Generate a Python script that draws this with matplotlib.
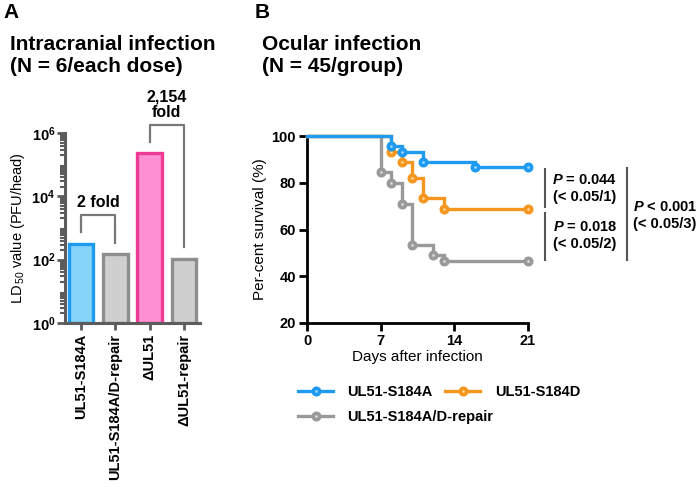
import matplotlib
matplotlib.use("Agg")
import matplotlib.pyplot as plt
from matplotlib.lines import Line2D
import numpy as np

plt.rcParams['font.family'] = ['Liberation Sans', 'DejaVu Sans']
plt.rcParams['mathtext.fontset'] = 'custom'
plt.rcParams['mathtext.default'] = 'regular'
plt.rcParams['mathtext.it'] = 'Liberation Sans:italic:bold'

# ---------------- data ----------------
ld50_labels = ["UL51-S184A", "UL51-S184A/D-repair", "\u0394UL51", "\u0394UL51-repair"]
ld50_values = [310, 150, 226000, 105]
fold_labels = ["2 fold", "2,154\nfold"]

surv_labels = ["UL51-S184A", "UL51-S184D", "UL51-S184A/D-repair"]
days_a = [0, 8, 9, 11, 16, 21]
surv_a = [100, 95.6, 93.3, 88.9, 86.7, 86.7]
days_d = [0, 8, 9, 10, 11, 13, 21]
surv_d = [100, 93.3, 88.9, 82.2, 73.3, 68.9, 68.9]
days_r = [0, 7, 8, 9, 10, 12, 13, 21]
surv_r = [100, 84.4, 80.0, 71.1, 53.3, 48.9, 46.7, 46.7]
x_ticks = [0, 7, 14, 21]
y_ticks = [20, 40, 60, 80, 100]

# ---------------- styles ----------------
W, H = 700, 487
fig = plt.figure(figsize=(7.0, 4.87), dpi=100)

def fx(x):
    return x / W

def fy(y):
    return 1 - y / H

bar_face = ["#86d3f8", "#cfcfcf", "#ff8fd3", "#cfcfcf"]
bar_edge = ["#1e9bef", "#8e8e8e", "#ef3a94", "#8e8e8e"]
axA_col = "#5c5c5c"

# ---------------- panel A ----------------
axA = fig.add_axes([fx(65), fy(323), fx(135), (323 - 133) / H])
xs = np.arange(len(ld50_values))
axA.bar(xs, ld50_values, width=0.72, bottom=1, color=bar_face,
        edgecolor=bar_edge, linewidth=2.4, zorder=2)
axA.set_yscale('log')
axA.set_ylim(1, 1e6)
axA.set_xlim(-0.47, 3.47)
axA.set_yticks([1, 1e2, 1e4, 1e6])
axA.set_yticklabels([r"10$^{0}$", r"10$^{2}$", r"10$^{4}$", r"10$^{6}$"])
axA.yaxis.set_minor_locator(matplotlib.ticker.LogLocator(base=10, subs=np.arange(2, 10), numticks=20))
axA.yaxis.set_minor_formatter(matplotlib.ticker.NullFormatter())
axA.set_xticks(xs)
axA.set_xticklabels(ld50_labels, rotation=90, fontsize=10.5, fontweight='bold')
for s in ['top', 'right']:
    axA.spines[s].set_visible(False)
for s in ['left', 'bottom']:
    axA.spines[s].set_linewidth(2.2)
    axA.spines[s].set_color(axA_col)
axA.tick_params(axis='y', which='major', length=6, width=2, color=axA_col, labelsize=10.5, pad=1)
axA.tick_params(axis='y', which='minor', length=3.5, width=1.5, color=axA_col)
axA.tick_params(axis='x', length=5, width=2, color=axA_col, pad=3)
for t in axA.get_yticklabels():
    t.set_fontweight('bold')
axA.set_ylabel(r"LD$_{\,50}$ value (PFU/head)", fontsize=10.5, labelpad=3)

# brackets
bk = dict(color="#777777", lw=1.6, clip_on=False, zorder=3)
axA.plot([0, 0, 1, 1], [740, 2570, 2570, 335], **bk)
axA.plot([2, 2, 3, 3], [5.1e5, 1.77e6, 1.77e6, 250], **bk)
axA.text(0.5, 6200, fold_labels[0], ha='center', va='center', fontsize=11.5, fontweight='bold')
axA.text(2.5, 8.0e6, fold_labels[1], ha='center', va='center', fontsize=11.5,
         fontweight='bold', linespacing=1.05, clip_on=False)

fig.text(fx(3), fy(13), "A", fontsize=15, fontweight='bold', va='center', ha='left')
fig.text(fx(10), fy(55), "Intracranial infection\n(N = 6/each dose)", fontsize=15,
         fontweight='bold', va='center', ha='left', linespacing=1.2)

# ---------------- panel B ----------------
axB = fig.add_axes([fx(307), fy(323), fx(221), (323 - 136) / H])
cols = {"a": "#1e9bf0", "d": "#f7961e", "r": "#999999"}
faces = {"a": "#9fd8fb", "d": "#fcd494", "r": "#dcdcdc"}
series = [("r", days_r, surv_r, surv_labels[2]),
          ("d", days_d, surv_d, surv_labels[1]),
          ("a", days_a, surv_a, surv_labels[0])]
for key, dd, ss, lab in series:
    axB.step(dd, ss, where='post', color=cols[key], lw=2.4, zorder=3, clip_on=False,
             solid_joinstyle='miter')
    axB.plot(dd[1:], ss[1:], 'o', ms=4.6, mfc=faces[key], mec=cols[key], mew=2.6,
             zorder=4, clip_on=False)
axB.set_xlim(0, 21)
axB.set_ylim(20, 100)
axB.set_xticks(x_ticks)
axB.set_yticks(y_ticks)
for s in ['top', 'right']:
    axB.spines[s].set_visible(False)
for s in ['left', 'bottom']:
    axB.spines[s].set_linewidth(2.0)
    axB.spines[s].set_color('black')
axB.tick_params(length=6, width=2, labelsize=10.5, pad=2)
for t in axB.get_xticklabels() + axB.get_yticklabels():
    t.set_fontweight('bold')
axB.set_xlabel("Days after infection", fontsize=11, labelpad=1)
axB.set_ylabel("Per-cent survival (%)", fontsize=11, labelpad=3)

fig.text(fx(255), fy(13), "B", fontsize=15, fontweight='bold', va='center', ha='left')
fig.text(fx(262), fy(55), "Ocular infection\n(N = 45/group)", fontsize=15,
         fontweight='bold', va='center', ha='left', linespacing=1.2)

# p-value annotations
lk = dict(color="#555555", lw=1.5, transform=fig.transFigure)
fig.add_artist(Line2D([fx(545), fx(545)], [fy(169), fy(207)], **lk))
fig.add_artist(Line2D([fx(545), fx(545)], [fy(213), fy(260)], **lk))
fig.add_artist(Line2D([fx(627), fx(627)], [fy(168), fy(260)], **lk))
pk = dict(fontsize=10.5, fontweight='bold', ha='center', va='center')
fig.text(fx(585), fy(180), r"$\mathit{P}$ = 0.044", **pk)
fig.text(fx(585), fy(197), "(< 0.05/1)", **pk)
fig.text(fx(585), fy(227), r"$\mathit{P}$ = 0.018", **pk)
fig.text(fx(585), fy(244), "(< 0.05/2)", **pk)
fig.text(fx(665), fy(207), r"$\mathit{P}$ < 0.001", **pk)
fig.text(fx(665), fy(224), "(< 0.05/3)", **pk)

# legend
def handle(key):
    return Line2D([], [], color=cols[key], lw=2.4, marker='o', ms=4.6,
                  mfc=faces[key], mec=cols[key], mew=2.6)

lg_kw = dict(frameon=False, handlelength=2.4, handletextpad=1.0, borderaxespad=0,
             borderpad=0, prop={'weight': 'bold', 'size': 10.5})
leg1 = fig.legend([handle("a"), handle("d")], surv_labels[:2], ncol=2,
                  loc='center left', bbox_to_anchor=(fx(298), fy(392)),
                  columnspacing=0.85, **lg_kw)
leg2 = fig.legend([handle("r")], surv_labels[2:], ncol=1,
                  loc='center left', bbox_to_anchor=(fx(298), fy(417)), **lg_kw)

fig.savefig("out.png", dpi=100)
